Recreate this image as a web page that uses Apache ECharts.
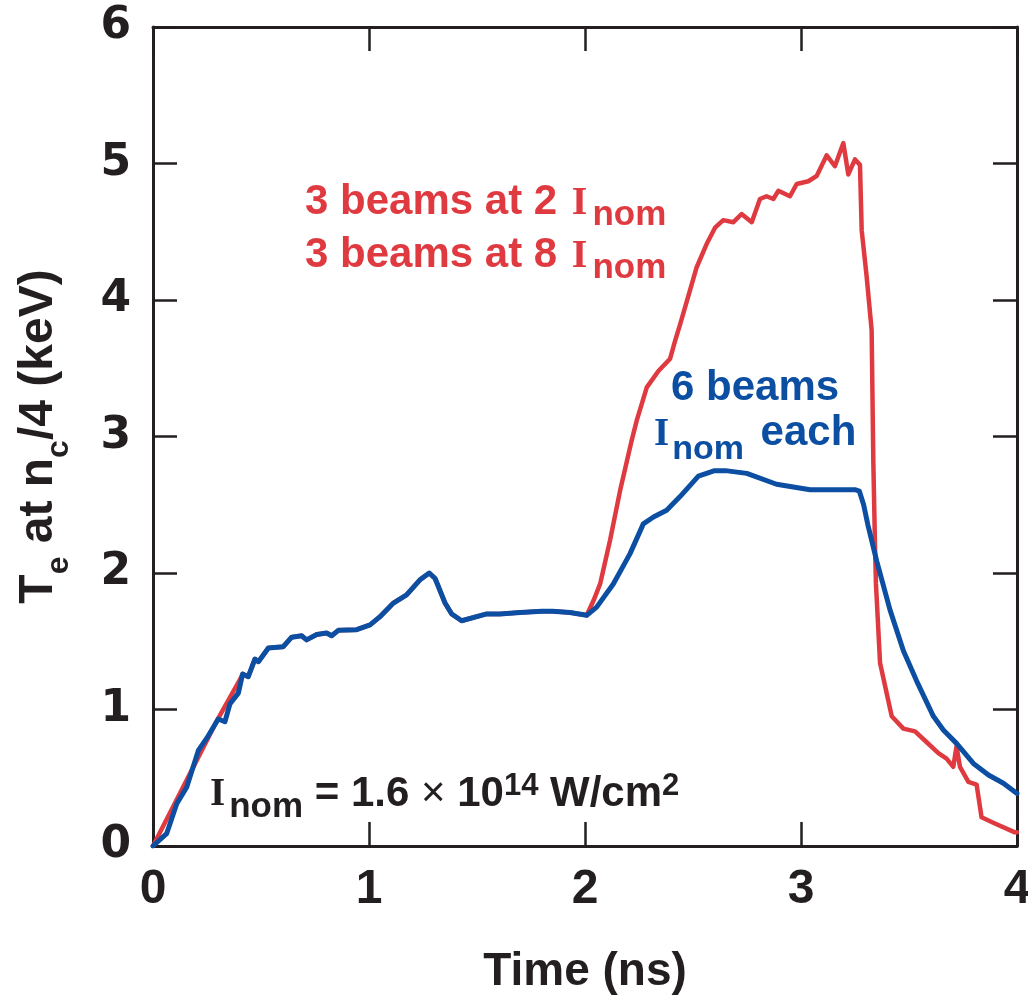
<!DOCTYPE html>
<html>
<head>
<meta charset="utf-8">
<script src="https://cdn.jsdelivr.net/npm/echarts@6/dist/echarts.min.js"></script>
<style>html,body{margin:0;padding:0;background:#fff}#chart{width:1028px;height:1000px}</style>
</head>
<body>
<div id="chart"></div>
<script>
// ---- data ----
const xTickValues = [0, 1, 2, 3, 4];
const yTickValues = [0, 1, 2, 3, 4, 5, 6];

// "3 beams at 2 Inom / 3 beams at 8 Inom" (red)
const redTime = [0, 0.10, 0.20, 0.30, 0.403, 0.415, 0.441, 0.472, 0.488, 0.534, 0.603, 0.642, 0.688, 0.711, 0.758, 0.804, 0.827, 0.858, 0.943, 1.005, 1.051, 1.113, 1.174, 1.236, 1.279, 1.306, 1.352, 1.383, 1.429, 1.545, 1.606, 1.70, 1.80, 1.85, 1.93, 2.008, 2.04, 2.07, 2.116, 2.162, 2.216, 2.24, 2.286, 2.34, 2.394, 2.417, 2.44, 2.486, 2.517, 2.563, 2.602, 2.64, 2.687, 2.725, 2.772, 2.81, 2.84, 2.872, 2.895, 2.949, 2.98, 3.034, 3.073, 3.119, 3.157, 3.196, 3.219, 3.25, 3.273, 3.281, 3.304, 3.327, 3.335, 3.343, 3.347, 3.366, 3.42, 3.474, 3.528, 3.582, 3.636, 3.674, 3.705, 3.72, 3.736, 3.775, 3.813, 3.836, 3.89, 3.99, 4.0];
const redTemp = [0, 0.31, 0.62, 0.93, 1.22, 1.26, 1.24, 1.37, 1.35, 1.45, 1.46, 1.53, 1.54, 1.51, 1.55, 1.56, 1.54, 1.58, 1.585, 1.62, 1.68, 1.78, 1.84, 1.95, 2.00, 1.96, 1.78, 1.70, 1.65, 1.70, 1.70, 1.71, 1.72, 1.72, 1.71, 1.69, 1.80, 1.92, 2.24, 2.60, 2.97, 3.12, 3.36, 3.48, 3.57, 3.70, 3.82, 4.07, 4.24, 4.41, 4.53, 4.585, 4.57, 4.63, 4.57, 4.74, 4.76, 4.74, 4.80, 4.76, 4.85, 4.87, 4.91, 5.06, 4.98, 5.15, 4.92, 5.03, 4.99, 4.51, 4.17, 3.78, 2.80, 2.17, 1.92, 1.34, 0.95, 0.86, 0.84, 0.76, 0.68, 0.64, 0.58, 0.73, 0.58, 0.47, 0.45, 0.21, 0.17, 0.10, 0.10];

// "6 beams, Inom each" (blue)
const blueTime = [0, 0.063, 0.11, 0.156, 0.21, 0.249, 0.302, 0.333, 0.356, 0.395, 0.415, 0.441, 0.472, 0.488, 0.534, 0.603, 0.642, 0.688, 0.711, 0.758, 0.804, 0.827, 0.858, 0.943, 1.005, 1.051, 1.113, 1.174, 1.236, 1.279, 1.306, 1.352, 1.383, 1.429, 1.545, 1.606, 1.70, 1.80, 1.85, 1.93, 2.008, 2.054, 2.131, 2.208, 2.27, 2.317, 2.378, 2.44, 2.525, 2.60, 2.65, 2.749, 2.887, 3.042, 3.15, 3.25, 3.27, 3.29, 3.31, 3.35, 3.412, 3.474, 3.535, 3.613, 3.659, 3.721, 3.798, 3.868, 3.937, 4.0];
const blueTemp = [0, 0.09, 0.31, 0.43, 0.70, 0.79, 0.93, 0.91, 1.04, 1.12, 1.26, 1.24, 1.37, 1.35, 1.45, 1.46, 1.53, 1.54, 1.51, 1.55, 1.56, 1.54, 1.58, 1.585, 1.62, 1.68, 1.78, 1.84, 1.95, 2.00, 1.96, 1.78, 1.70, 1.65, 1.70, 1.70, 1.71, 1.72, 1.72, 1.71, 1.69, 1.75, 1.92, 2.14, 2.36, 2.41, 2.46, 2.56, 2.71, 2.75, 2.75, 2.73, 2.65, 2.61, 2.61, 2.61, 2.60, 2.50, 2.35, 2.09, 1.73, 1.43, 1.21, 0.95, 0.85, 0.75, 0.605, 0.52, 0.46, 0.385];

// ---- styling ----
const INK = '#231f20';
const RED = '#e03a41';
const BLUE = '#0c4fa2';
const SANS = '"Liberation Sans", Arial, sans-serif';
const SERIF = '"Liberation Serif", "Times New Roman", serif';

const zip = (xs, ys) => xs.map((x, i) => [x, ys[i]]);

function richSet(color, mainSize, iSize, iH, iPad, subSize, subH) {
  return {
    m: { color: color, fontFamily: SANS, fontWeight: 'bold', fontSize: mainSize, height: mainSize, lineHeight: mainSize, verticalAlign: 'bottom' },
    e: { color: color, fontFamily: SANS, fontWeight: 'bold', fontSize: mainSize, height: mainSize, lineHeight: mainSize, verticalAlign: 'bottom', padding: [0, 0, 0, 5] },
    i: { color: color, fontFamily: SERIF, fontWeight: 'bold', fontSize: iSize, height: iH, lineHeight: mainSize, verticalAlign: 'bottom', padding: iPad },
    s: { color: color, fontFamily: SANS, fontWeight: 'bold', fontSize: subSize, height: subH, lineHeight: mainSize, verticalAlign: 'bottom' }
  };
}
function zrRich(r) {
  const out = {};
  Object.keys(r).forEach(k => {
    const s = r[k];
    const o = { fill: s.color, fontFamily: s.fontFamily, fontWeight: s.fontWeight, fontSize: s.fontSize, height: s.height, lineHeight: s.lineHeight, verticalAlign: s.verticalAlign };
    if (s.padding) o.padding = s.padding;
    out[k] = o;
  });
  return out;
}

// token heights chosen so that glyph baselines land where they sit in the reference
const redRich = zrRich(richSet(RED, 42, 40, 39.9, [0, 5, 0, 3], 35, 17.3));
const blueRich = zrRich(richSet(BLUE, 42, 39, 38.9, [0, 3, 0, 0], 34, 10.2));
const inomRich = zrRich(Object.assign(richSet(INK, 42, 39, 41.2, [0, 4, 0, 0], 35, 17.2), {
  x: { color: INK, fontFamily: SANS, fontWeight: 'normal', fontSize: 42, height: 42, lineHeight: 42, verticalAlign: 'bottom' },
  p: { color: INK, fontFamily: SANS, fontWeight: 'bold', fontSize: 31, height: 58.4, lineHeight: 42, verticalAlign: 'bottom' }
}));

const axisLineStyle = { color: INK, width: 3 };
const tickStyle = { color: INK, width: 2.5 };

const chart = echarts.init(document.getElementById('chart'), null, { renderer: 'canvas' });
chart.setOption({
  animation: false,
  backgroundColor: '#fff',
  grid: { left: 153, right: 11, top: 27, bottom: 154, containLabel: false, outerBoundsMode: 'none' },
  xAxis: [
    {
      type: 'value', position: 'bottom', min: xTickValues[0], max: xTickValues[xTickValues.length - 1], interval: 1,
      axisLine: { show: true, onZero: false, lineStyle: axisLineStyle },
      axisTick: { show: true, inside: true, length: 24, lineStyle: tickStyle },
      splitLine: { show: false },
      axisLabel: { show: true, margin: 20, color: INK, fontFamily: SANS, fontWeight: 'bold', fontSize: 48, lineHeight: 48,
        showMinLabel: true, showMaxLabel: true, hideOverlap: false },
      name: 'Time (ns)', nameLocation: 'middle', nameGap: 103,
      nameTextStyle: { color: INK, fontFamily: SANS, fontWeight: 'bold', fontSize: 46, lineHeight: 46 }
    },
    {
      type: 'value', position: 'top', min: xTickValues[0], max: xTickValues[xTickValues.length - 1], interval: 1,
      axisLine: { show: true, onZero: false, lineStyle: axisLineStyle },
      axisTick: { show: true, inside: true, length: 24, lineStyle: tickStyle },
      splitLine: { show: false }, axisLabel: { show: false }
    }
  ],
  yAxis: [
    {
      type: 'value', position: 'left', min: yTickValues[0], max: yTickValues[yTickValues.length - 1], interval: 1,
      axisLine: { show: true, onZero: false, lineStyle: axisLineStyle },
      axisTick: { show: true, inside: true, length: 24, lineStyle: tickStyle },
      splitLine: { show: false },
      axisLabel: { show: true, margin: 22, color: INK, fontFamily: '"DejaVu Sans", sans-serif', fontWeight: 'bold', fontSize: 44,
        showMinLabel: true, showMaxLabel: true },
      name: '{m|T}{s|e}{m| at n}{s|c}{m|/4 (keV)}', nameLocation: 'middle', nameGap: 90.6,
      nameTextStyle: {
        color: INK, fontFamily: SANS, fontWeight: 'bold', fontSize: 48,
        rich: {
          m: { color: INK, fontFamily: SANS, fontWeight: 'bold', fontSize: 48, height: 48, lineHeight: 48, verticalAlign: 'bottom' },
          s: { color: INK, fontFamily: SANS, fontWeight: 'bold', fontSize: 32, height: 7, lineHeight: 48, verticalAlign: 'bottom' }
        }
      }
    },
    {
      type: 'value', position: 'right', min: yTickValues[0], max: yTickValues[yTickValues.length - 1], interval: 1,
      axisLine: { show: true, onZero: false, lineStyle: axisLineStyle },
      axisTick: { show: true, inside: true, length: 24, lineStyle: tickStyle },
      splitLine: { show: false }, axisLabel: { show: false }
    }
  ],
  series: [
    {
      name: '3 beams at 2 Inom, 3 beams at 8 Inom', type: 'line', xAxisIndex: 0, yAxisIndex: 0,
      data: zip(redTime, redTemp), showSymbol: false, smooth: false,
      lineStyle: { color: RED, width: 4.5, join: 'round', cap: 'round' }, itemStyle: { color: RED }, z: 2
    },
    {
      name: '6 beams, Inom each', type: 'line', xAxisIndex: 0, yAxisIndex: 0,
      data: zip(blueTime, blueTemp), showSymbol: false, smooth: false,
      lineStyle: { color: BLUE, width: 5, join: 'round', cap: 'round' }, itemStyle: { color: BLUE }, z: 3
    }
  ],
  graphic: [
    { type: 'text', x: 305, y: 223.5, z: 10, style: { text: '{m|3 beams at 2 }{i|I}{s|nom}', rich: redRich, align: 'left', verticalAlign: 'bottom' } },
    { type: 'text', x: 305, y: 276.5, z: 10, style: { text: '{m|3 beams at 8 }{i|I}{s|nom}', rich: redRich, align: 'left', verticalAlign: 'bottom' } },
    { type: 'text', x: 671, y: 409.5, z: 10, style: { text: '{m|6 beams}', rich: blueRich, align: 'left', verticalAlign: 'bottom' } },
    { type: 'text', x: 654, y: 454.3, z: 10, style: { text: '{i|I}{s|nom}{e| each}', rich: blueRich, align: 'left', verticalAlign: 'bottom' } },
    { type: 'text', x: 210, y: 815.5, z: 10, style: { text: '{i|I}{s|nom}{m| = 1.6 }{x|×}{m| 10}{p|14}{m| W/cm}{p|2}', rich: inomRich, align: 'left', verticalAlign: 'bottom' } }
  ]
});
</script>
</body>
</html>
